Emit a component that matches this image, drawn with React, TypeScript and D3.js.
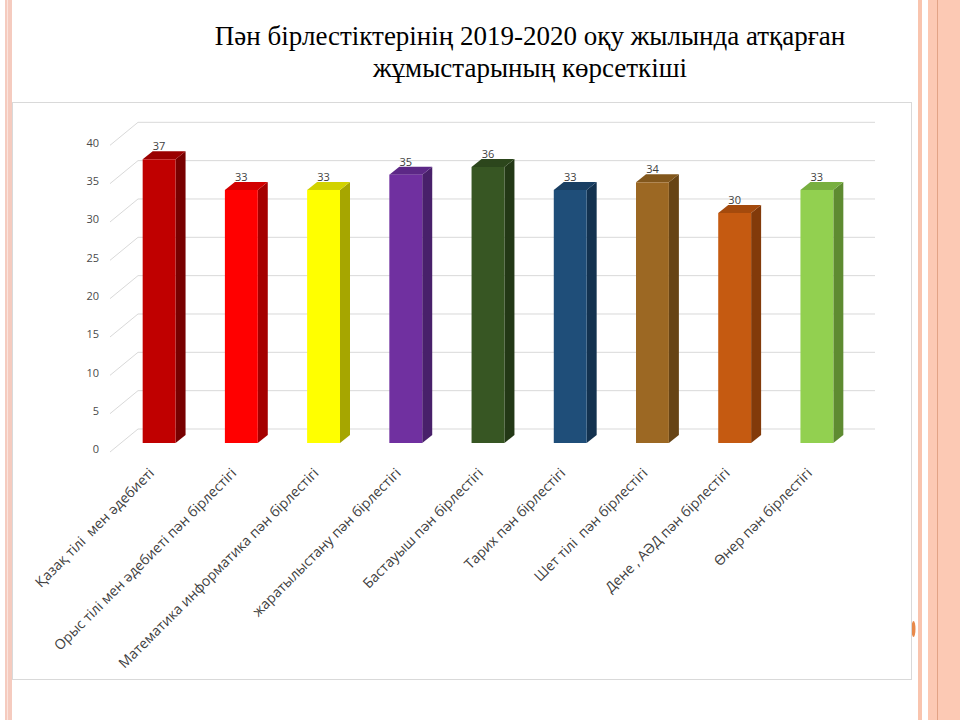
import React, { useRef, useEffect } from 'react';
import * as d3 from 'd3';

// Chart data
const titleLines = [
  'Пән бірлестіктерінің 2019-2020 оқу жылында атқарған',
  'жұмыстарының көрсеткіші',
];

const categories = [
  'Қазақ тілі  мен әдебиеті',
  'Орыс тілі мен әдебиеті пән бірлестігі',
  'Математика информатика пән бірлестігі',
  'жаратылыстану пән бірлестігі',
  'Бастауыш пән бірлестігі',
  'Тарих пән бірлестігі',
  'Шет тілі  пән бірлестігі',
  'Дене , АӘД пән бірлестігі',
  'Өнер пән бірлестігі',
];

const values = [37, 33, 33, 35, 36, 33, 34, 30, 33];

const frontColors = ['#C00000', '#FF0000', '#FFFF00', '#7030A0', '#375623', '#1F4E79', '#9C6823', '#C55A11', '#92D050'];
const sideColors = ['#780000', '#A50000', '#A6A600', '#48206A', '#233816', '#13324F', '#674415', '#823A0A', '#5E8B31'];
const topColors = ['#9A0000', '#D20000', '#D2D200', '#5C2886', '#2C461C', '#193F63', '#82571C', '#A44A0D', '#78AF40'];

const yTicks = [0, 5, 10, 15, 20, 25, 30, 35, 40];

const App: React.FC = () => {
  const svgRef = useRef<SVGSVGElement>(null);
  const width = 960;
  const height = 720;

  useEffect(() => {
    if (!svgRef.current) return;
    const svg = d3.select(svgRef.current);
    svg.selectAll('*').remove();

    // Slide decoration (pink stripes)
    svg.append('rect').attr('width', width).attr('height', height).attr('fill', '#ffffff');
    svg.append('rect').attr('x', 5).attr('y', 0).attr('width', 7).attr('height', height).attr('fill', '#f5cbbf');
    svg.append('rect').attr('x', 7).attr('y', 0).attr('width', 1).attr('height', height).attr('fill', '#fbe4dd');
    svg.append('rect').attr('x', 918).attr('y', 0).attr('width', 4).attr('height', height).attr('fill', '#f9c4ae');
    svg.append('rect').attr('x', 928).attr('y', 0).attr('width', 32).attr('height', height).attr('fill', '#fcc9b4');
    svg.append('rect').attr('x', 937).attr('y', 0).attr('width', 1).attr('height', height).attr('fill', '#e2a386');

    // Title
    svg.append('g')
      .selectAll('text')
      .data(titleLines)
      .enter().append('text')
      .attr('x', 530)
      .attr('y', (d, i) => 45 + i * 32)
      .attr('text-anchor', 'middle')
      .style('font-family', '"Liberation Serif", "Times New Roman", serif')
      .style('font-size', '27px')
      .style('fill', '#000000')
      .text(d => d);

    // Orange circle peeking out behind the chart frame
    svg.append('ellipse')
      .attr('cx', 913.5).attr('cy', 629).attr('rx', 2).attr('ry', 8)
      .attr('fill', '#e8894a');

    // Chart frame
    svg.append('rect')
      .attr('x', 12.5).attr('y', 102.5)
      .attr('width', 899).attr('height', 577)
      .attr('fill', '#ffffff')
      .attr('stroke', '#d9d9d9');

    // 3D projection: floor front at y 452, back wall shifted by (28, -23)
    const depthX = 28;
    const depthY = -23;

    const x = d3.scaleBand<string>()
      .domain(categories)
      .range([107, 847])
      .paddingInner(0.6)
      .paddingOuter(0.3);

    const y = d3.scaleLinear()
      .domain([0, 40])
      .range([452, 145.3]);

    const g = svg.append('g');

    // Gridlines (floor edge + back wall)
    const axisX = 110;
    const rightX = 847;
    g.append('g')
      .selectAll('path')
      .data(yTicks)
      .enter().append('path')
      .attr('fill', 'none')
      .attr('stroke', '#d9d9d9')
      .attr('stroke-width', 1)
      .attr('d', d => {
        const p = d3.path();
        p.moveTo(axisX, y(d));
        p.lineTo(axisX + depthX, y(d) + depthY);
        p.lineTo(rightX + depthX, y(d) + depthY);
        return p.toString();
      });

    // Y tick labels
    g.append('g')
      .selectAll('text')
      .data(yTicks)
      .enter().append('text')
      .attr('x', 99)
      .attr('y', d => y(d) - 2.5)
      .attr('dy', '0.35em')
      .attr('text-anchor', 'end')
      .style('font-family', '"Open Sans", sans-serif')
      .style('font-size', '11px')
      .style('fill', '#4a4a4a')
      .text(d => d);

    // Bars sit between depth 0.39 and 0.74
    const zOffX = 11;
    const zOffY = -9;
    const bx = 10;
    const by = -8;

    const bars = g.append('g')
      .selectAll('g')
      .data(values)
      .enter().append('g');

    const x0 = (i: number) => (x(categories[i]) as number) + zOffX;
    const x1 = (i: number) => x0(i) + x.bandwidth();
    const yT = (d: number) => y(d) + zOffY;
    const yB = y(0) + zOffY;

    // side face
    bars.append('path')
      .attr('fill', (d, i) => sideColors[i])
      .attr('d', (d, i) => {
        const p = d3.path();
        p.moveTo(x1(i), yT(d));
        p.lineTo(x1(i) + bx, yT(d) + by);
        p.lineTo(x1(i) + bx, yB + by);
        p.lineTo(x1(i), yB);
        p.closePath();
        return p.toString();
      });

    // top face
    bars.append('path')
      .attr('fill', (d, i) => topColors[i])
      .attr('d', (d, i) => {
        const p = d3.path();
        p.moveTo(x0(i), yT(d));
        p.lineTo(x1(i), yT(d));
        p.lineTo(x1(i) + bx, yT(d) + by);
        p.lineTo(x0(i) + bx, yT(d) + by);
        p.closePath();
        return p.toString();
      });

    // front face
    bars.append('rect')
      .attr('x', (d, i) => x0(i))
      .attr('y', d => yT(d))
      .attr('width', x.bandwidth())
      .attr('height', d => yB - yT(d))
      .attr('fill', (d, i) => frontColors[i]);

    // value labels
    bars.append('text')
      .attr('x', (d, i) => x0(i) + x.bandwidth() / 2)
      .attr('y', d => yT(d) + by - 1)
      .attr('text-anchor', 'middle')
      .style('font-family', '"Open Sans", sans-serif')
      .style('font-size', '11px')
      .style('fill', '#404040')
      .text(d => d);

    // Category labels, rotated
    g.append('g')
      .selectAll('text')
      .data(categories)
      .enter().append('text')
      .attr('transform', (d, i) => `translate(${x0(i) + x.bandwidth() / 2 - 4},${474}) rotate(-45)`)
      .attr('text-anchor', 'end')
      .style('font-family', '"Open Sans", sans-serif')
      .style('font-size', '14px')
      .style('white-space', 'pre')
      .style('fill', '#404040')
      .text(d => d);
  }, []);

  return (
    <svg
      ref={svgRef}
      width={width}
      height={height}
      style={{ position: 'absolute', left: 0, top: 0 }}
    ></svg>
  );
};

export default App;
